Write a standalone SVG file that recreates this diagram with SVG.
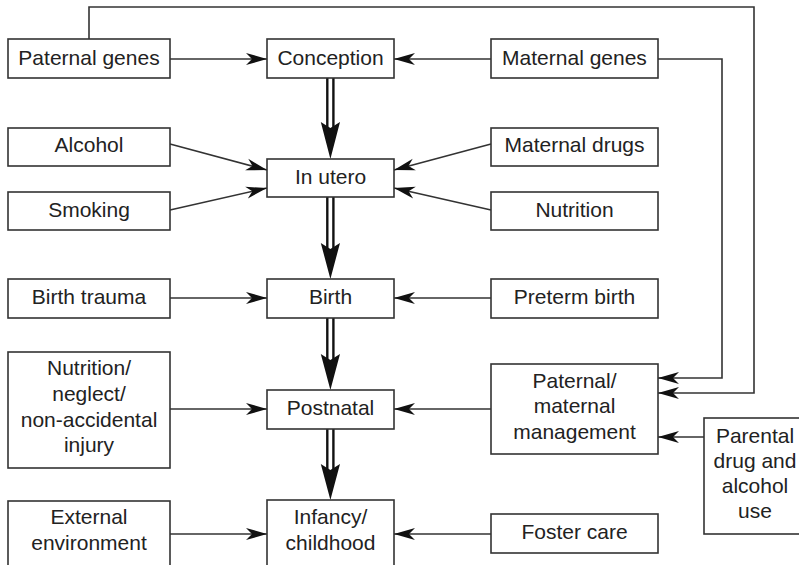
<svg xmlns="http://www.w3.org/2000/svg" width="799" height="565" viewBox="0 0 799 565">
<defs>
<style>
.box{fill:#fff;stroke:#333;stroke-width:1.6}
.t{font-family:"Liberation Sans",Arial,sans-serif;font-size:21px;fill:#222;text-anchor:middle}
.c{fill:none;stroke:#333;stroke-width:1.6}
.sh{stroke:#111;stroke-width:2.4}
.hd{fill:#111}
</style>
<marker id="a" markerUnits="userSpaceOnUse" markerWidth="22" markerHeight="13" refX="21" refY="6" orient="auto" viewBox="0 0 22 12">
<path d="M0,0 L21,6 L0,12 L6,6 z" fill="#111"/>
</marker>
</defs>
<rect width="799" height="565" fill="#fff"/>
<g id="connectors">
<path class="c" d="M89,39 V7 H754 V393 H658" marker-end="url(#a)"/>
<path class="c" d="M658,59 H722 V378 H658" marker-end="url(#a)"/>
<line class="c" x1="170" y1="59" x2="267" y2="59" marker-end="url(#a)"/>
<line class="c" x1="491" y1="59" x2="394" y2="59" marker-end="url(#a)"/>
<line class="c" x1="170" y1="144" x2="267" y2="170" marker-end="url(#a)"/>
<line class="c" x1="170" y1="210" x2="267" y2="188" marker-end="url(#a)"/>
<line class="c" x1="491" y1="144" x2="394" y2="170" marker-end="url(#a)"/>
<line class="c" x1="491" y1="210" x2="394" y2="188" marker-end="url(#a)"/>
<line class="c" x1="170" y1="298" x2="267" y2="298" marker-end="url(#a)"/>
<line class="c" x1="491" y1="298" x2="394" y2="298" marker-end="url(#a)"/>
<line class="c" x1="170" y1="409" x2="267" y2="409" marker-end="url(#a)"/>
<line class="c" x1="491" y1="409" x2="394" y2="409" marker-end="url(#a)"/>
<line class="c" x1="704" y1="437" x2="658" y2="437" marker-end="url(#a)"/>
<line class="c" x1="170" y1="534" x2="267" y2="534" marker-end="url(#a)"/>
<line class="c" x1="491" y1="534" x2="394" y2="534" marker-end="url(#a)"/>
<line class="sh" x1="327.3" y1="78" x2="327.3" y2="127"/>
<line class="sh" x1="333.4" y1="78" x2="333.4" y2="127"/>
<path class="hd" d="M320.8,122 L330.4,159 L340,122 L330.4,128 z"/>
<line class="sh" x1="327.3" y1="197" x2="327.3" y2="248"/>
<line class="sh" x1="333.4" y1="197" x2="333.4" y2="248"/>
<path class="hd" d="M320.8,243 L330.4,279 L340,243 L330.4,249 z"/>
<line class="sh" x1="327.3" y1="318" x2="327.3" y2="359"/>
<line class="sh" x1="333.4" y1="318" x2="333.4" y2="359"/>
<path class="hd" d="M320.8,354 L330.4,390 L340,354 L330.4,360 z"/>
<line class="sh" x1="327.3" y1="429" x2="327.3" y2="469"/>
<line class="sh" x1="333.4" y1="429" x2="333.4" y2="469"/>
<path class="hd" d="M320.8,464 L330.4,500 L340,464 L330.4,470 z"/>
</g>
<g id="paternal-genes"><rect class="box" x="8" y="39" width="162" height="39"/><text class="t" x="89" y="65">Paternal genes</text></g>
<g id="conception"><rect class="box" x="267" y="39" width="127" height="39"/><text class="t" x="330.5" y="65">Conception</text></g>
<g id="maternal-genes"><rect class="box" x="491" y="39" width="167" height="39"/><text class="t" x="574.5" y="65">Maternal genes</text></g>
<g id="alcohol"><rect class="box" x="8" y="128" width="162" height="38"/><text class="t" x="89" y="152">Alcohol</text></g>
<g id="in-utero"><rect class="box" x="267" y="159" width="127" height="38"/><text class="t" x="330.5" y="184">In utero</text></g>
<g id="maternal-drugs"><rect class="box" x="491" y="128" width="167" height="38"/><text class="t" x="574.5" y="152">Maternal drugs</text></g>
<g id="smoking"><rect class="box" x="8" y="192" width="162" height="38"/><text class="t" x="89" y="217">Smoking</text></g>
<g id="nutrition"><rect class="box" x="491" y="192" width="167" height="38"/><text class="t" x="574.5" y="217">Nutrition</text></g>
<g id="birth-trauma"><rect class="box" x="8" y="279" width="162" height="39"/><text class="t" x="89" y="304">Birth trauma</text></g>
<g id="birth"><rect class="box" x="267" y="279" width="127" height="39"/><text class="t" x="330.5" y="304">Birth</text></g>
<g id="preterm-birth"><rect class="box" x="491" y="279" width="167" height="39"/><text class="t" x="574.5" y="304">Preterm birth</text></g>
<g id="nutrition-neglect"><rect class="box" x="8" y="352" width="162" height="116"/><text class="t" x="89" y="375">Nutrition/</text><text class="t" x="89" y="401">neglect/</text><text class="t" x="89" y="427">non-accidental</text><text class="t" x="89" y="452">injury</text></g>
<g id="postnatal"><rect class="box" x="267" y="390" width="127" height="39"/><text class="t" x="330.5" y="415">Postnatal</text></g>
<g id="parental-management"><rect class="box" x="491" y="364" width="167" height="90"/><text class="t" x="574.5" y="388">Paternal/</text><text class="t" x="574.5" y="413">maternal</text><text class="t" x="574.5" y="439">management</text></g>
<g id="parental-drug"><rect class="box" x="704" y="418" width="104" height="116"/><text class="t" x="755" y="443">Parental</text><text class="t" x="755" y="468">drug and</text><text class="t" x="755" y="493">alcohol</text><text class="t" x="755" y="518">use</text></g>
<g id="external-environment"><rect class="box" x="8" y="501" width="162" height="75"/><text class="t" x="89" y="524">External</text><text class="t" x="89" y="550">environment</text></g>
<g id="infancy-childhood"><rect class="box" x="267" y="500" width="127" height="76"/><text class="t" x="330.5" y="524">Infancy/</text><text class="t" x="330.5" y="550">childhood</text></g>
<g id="foster-care"><rect class="box" x="491" y="514" width="167" height="39"/><text class="t" x="574.5" y="539">Foster care</text></g>
</svg>
